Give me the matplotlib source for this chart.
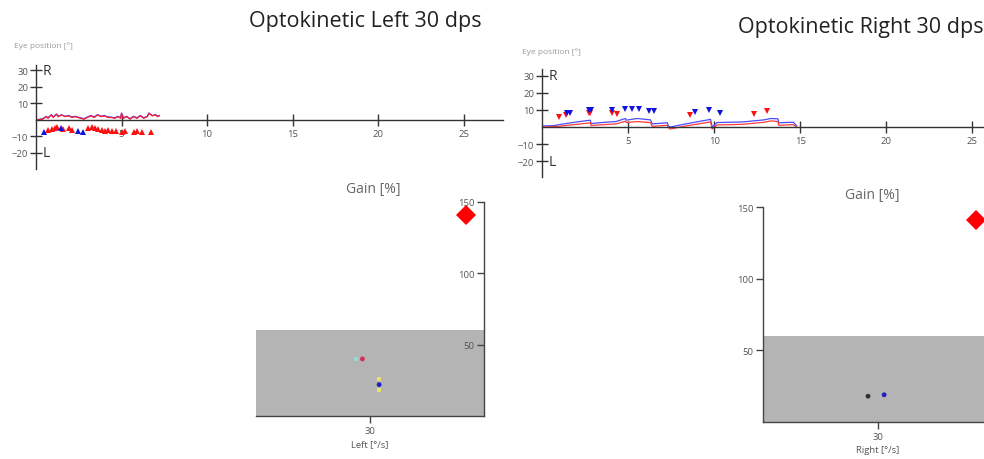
import matplotlib.pyplot as plt
from matplotlib.patches import Rectangle

plt.rcParams['font.family'] = ['Open Sans', 'DejaVu Sans']

W, H = 984, 460

# --- eye position, left stimulus ---
left_t = [0.0, 0.4, 0.6, 0.7, 0.9, 1.0, 1.2, 1.3, 1.5, 1.7, 1.9, 2.1, 2.3, 2.6, 2.8,
          3.0, 3.2, 3.4, 3.6, 3.8, 4.0, 4.2, 4.4, 4.6, 4.8, 4.95, 5.0, 5.1, 5.3, 5.5,
          5.7, 5.9, 6.1, 6.3, 6.5, 6.6, 6.8, 7.0, 7.1, 7.2]
left_red = [0.0, 0.5, 2.0, 1.0, 3.0, 1.5, 3.5, 2.0, 3.0, 2.0, 2.5, 1.5, 2.0, 1.0, 0.5,
            1.5, 2.5, 1.5, 3.0, 2.0, 2.5, 1.5, 1.5, 1.0, 2.0, 1.0, 4.0, 1.0, 2.0, 0.5,
            2.0, 1.0, 2.5, 1.0, 2.0, 4.0, 2.5, 3.0, 2.0, 2.5]
left_blue = [0.0, 0.8, 2.2, 1.3, 3.2, 1.8, 3.6, 2.3, 3.1, 2.2, 2.7, 1.8, 2.2, 1.3, 0.8,
             1.7, 2.7, 1.8, 3.2, 2.2, 2.7, 1.8, 1.7, 1.3, 2.2, 1.2, 4.2, 1.3, 2.2, 0.8,
             2.2, 1.3, 2.7, 1.3, 2.2, 4.2, 2.7, 3.2, 2.2, 2.7]
left_beat_red_t = [0.7, 0.94, 1.1, 1.2, 1.6, 1.9, 2.1, 3.04, 3.27, 3.45, 3.6, 3.86,
                   4.04, 4.2, 4.44, 4.7, 5.0, 5.2, 5.7, 5.9, 6.2, 6.7]
left_beat_red_y = [-6.0, -5.5, -5.0, -4.5, -5.5, -5.0, -6.0, -5.0, -4.5, -5.0, -5.5, -6.0,
                   -6.5, -6.0, -6.5, -6.5, -7.0, -6.5, -7.0, -6.5, -7.0, -7.0]
left_beat_blue_t = [0.47, 1.46, 2.46, 2.75]
left_beat_blue_y = [-7.5, -5.0, -6.5, -7.0]

# --- eye position, right stimulus ---
right_t = [0.0, 0.68, 1.07, 2.03, 2.81, 2.85, 3.0, 3.97, 4.3, 4.84, 4.9, 5.52, 6.3, 6.4,
           7.27, 7.35, 7.46, 8.24, 9.79, 9.88, 10.17, 11.7, 12.9, 13.3, 13.7, 13.75, 14.6, 14.8]
right_blue = [0.6, 0.8, 1.5, 3.0, 4.0, 2.0, 2.2, 3.0, 3.2, 5.0, 4.0, 5.0, 4.2, 1.8,
              2.5, 0.5, 0.0, 1.6, 4.5, 0.0, 2.6, 3.0, 4.2, 5.0, 4.8, 2.5, 2.8, 0.6]
right_red = [0.0, 0.2, 0.5, 1.6, 2.4, 0.8, 1.0, 1.6, 1.8, 3.4, 2.6, 3.2, 2.6, 0.4,
             1.0, -0.5, -1.2, 0.4, 3.0, -1.2, 1.2, 1.6, 2.8, 3.6, 3.2, 1.0, 1.4, -0.3]
right_beat_red_t = [0.97, 1.42, 2.71, 2.81, 4.07, 4.36, 8.62, 12.3, 13.08]
right_beat_red_y = [6.1, 6.9, 8.4, 8.0, 8.4, 7.6, 7.3, 7.8, 9.2]
right_beat_blue_t = [1.45, 1.65, 2.71, 2.87, 4.07, 4.84, 5.23, 5.62, 6.2, 6.49, 8.91, 9.69, 10.33]
right_beat_blue_y = [8.4, 8.4, 10.0, 10.0, 9.8, 10.4, 10.4, 10.4, 9.6, 9.6, 8.8, 10.0, 8.4]

# --- gain ---
left_gain_speed = [28.0, 32.4]
left_gain_vals = [40, 22]
left_gain_cols = ['#d03050', '#2020c0']
left_peak = (55.3, 141)
right_gain_speed = [27.4, 31.6]
right_gain_vals = [18, 19]
right_gain_cols = ['#303030', '#2020c0']
right_peak = (55.6, 141)

pos_ticks = [-20, -10, 10, 20, 30]
time_ticks = [5, 10, 15, 20, 25]
gain_ticks = [50, 100, 150]
normal_limit = 60

grey = '#555555'


def rect(l, t, r, b):
    return [l / W, 1 - b / H, (r - l) / W, (b - t) / H]


fig = plt.figure(figsize=(W / 100, H / 100), dpi=100)


def eye_axes(box, xmax, ylim):
    ax = fig.add_axes(rect(*box))
    ax.set_xlim(0, xmax)
    ax.set_ylim(*ylim)
    for s in ['top', 'right']:
        ax.spines[s].set_visible(False)
    ax.spines['bottom'].set_position(('data', 0))
    for s in ['left', 'bottom']:
        ax.spines[s].set_color('#333333')
        ax.spines[s].set_linewidth(1.0)
    ax.set_yticks(pos_ticks)
    ax.set_xticks(time_ticks)
    ax.tick_params(direction='inout', length=9, width=1, color='#333333',
                   labelsize=6.8, labelcolor=grey, pad=1)
    ax.tick_params(axis='x', length=9, pad=2)
    ax.patch.set_alpha(0)
    ax.text(0.4, 30, 'R', fontsize=10, color='#333333', va='center')
    ax.text(0.4, -20, 'L', fontsize=10, color='#333333', va='center')
    return ax


ax1 = eye_axes((36, 66, 503, 170), 27.3, (-29.7, 33.3))
ax1.plot(left_t, left_blue, color='#3030ff', lw=0.9)
ax1.plot(left_t, left_red, color='#ff2030', lw=0.9)
ax1.plot(left_beat_red_t, left_beat_red_y, '^', color='#ff1010', ms=4, mew=0)
ax1.plot(left_beat_blue_t, left_beat_blue_y, '^', color='#1010e0', ms=4, mew=0)

ax2 = eye_axes((542, 70, 1000, 178), 26.6, (-29.4, 34.1))
ax2.plot(right_t, right_blue, color='#4a4aff', lw=0.9)
ax2.plot(right_t, right_red, color='#ff3a3a', lw=0.9)
ax2.plot(right_beat_red_t, right_beat_red_y, 'v', color='#ff1010', ms=4, mew=0)
ax2.plot(right_beat_blue_t, right_beat_blue_y, 'v', color='#1010e0', ms=4, mew=0)


def gain_axes(box, side):
    ax = fig.add_axes(rect(*box))
    ax.set_xlim(0, 60)
    ax.set_ylim(0, 150)
    for s in ['top', 'right']:
        ax.spines[s].set_visible(False)
    if side == 'right':
        ax.spines['left'].set_position(('axes', 1.0))
    for s in ['left', 'bottom']:
        ax.spines[s].set_color('#444444')
        ax.spines[s].set_linewidth(1.0)
    ax.add_patch(Rectangle((0, 0), 60, normal_limit, color='#b4b4b4', lw=0, zorder=0))
    ax.set_yticks(gain_ticks)
    ax.set_xticks([30])
    ax.tick_params(direction='out', length=5, width=1, color='#444444',
                   labelsize=6.8, labelcolor=grey, pad=2)
    ax.patch.set_alpha(0)
    return ax


ax3 = gain_axes((256, 203, 484, 417), 'right')
ax3.plot(left_gain_speed[0] - 1.6, left_gain_vals[0], 's', color='#9ad8d8', ms=2.5, mew=0)
ax3.plot(left_gain_speed[1], left_gain_vals[1] + 4, 's', color='#e8e070', ms=2.5, mew=0)
ax3.plot(left_gain_speed[1], left_gain_vals[1] - 4, 's', color='#e8e070', ms=2.5, mew=0)
ax3.scatter(left_gain_speed, left_gain_vals, s=12, c=left_gain_cols, zorder=3, lw=0)
ax3.plot(*left_peak, 'D', color='#ff0000', ms=10, mew=0, clip_on=False)
ax3.set_xlabel('Left [°/s]', fontsize=6.8, color=grey, labelpad=3)

ax4 = gain_axes((763, 208, 993, 423), 'left')
ax4.scatter(right_gain_speed, right_gain_vals, s=12, c=right_gain_cols, zorder=3, lw=0)
ax4.plot(*right_peak, 'D', color='#ff0000', ms=10, mew=0, clip_on=False)
ax4.set_xlabel('Right [°/s]', fontsize=6.8, color=grey, labelpad=3)

fig.text(365 / W, 1 - 22 / H, 'Optokinetic Left 30 dps', fontsize=15.5,
         color='#222222', ha='center', va='center')
fig.text(738 / W, 1 - 27 / H, 'Optokinetic Right 30 dps', fontsize=15.5,
         color='#222222', ha='left', va='center')
fig.text(14 / W, 1 - 46 / H, 'Eye position [°]', fontsize=6, color='#999999', va='center')
fig.text(522 / W, 1 - 52 / H, 'Eye position [°]', fontsize=6, color='#999999', va='center')
fig.text(373 / W, 1 - 190 / H, 'Gain [%]', fontsize=10, color='#666666', ha='center', va='center')
fig.text(872 / W, 1 - 196 / H, 'Gain [%]', fontsize=10, color='#666666', ha='center', va='center')

fig.savefig('out.png', dpi=100)
